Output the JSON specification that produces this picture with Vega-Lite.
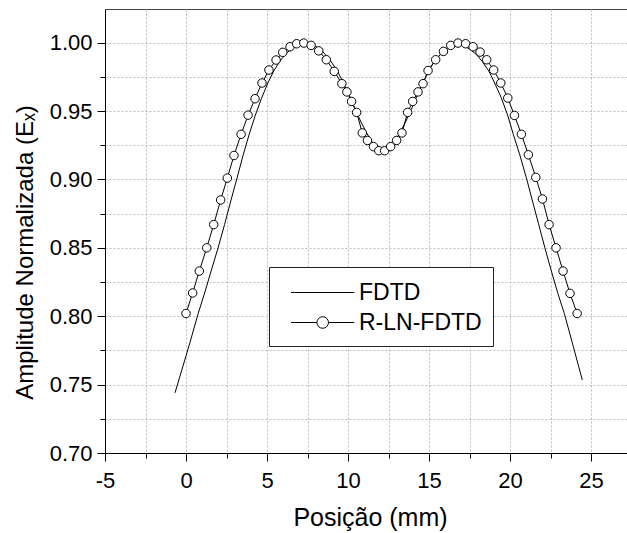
{
  "$schema": "https://vega.github.io/schema/vega-lite/v6.json",
  "width": 523,
  "height": 444,
  "autosize": {"type": "none"},
  "padding": {"left": 105, "top": 9, "right": 0, "bottom": 80},
  "background": "white",
  "config": {"font": "Liberation Sans", "view": {"stroke": "#444", "strokeWidth": 1}},
  "data": {"values": [
    {"series": "FDTD", "x": -0.68, "y": 0.744},
    {"series": "FDTD", "x": -0.2, "y": 0.763},
    {"series": "FDTD", "x": 0.25, "y": 0.781},
    {"series": "FDTD", "x": 0.75, "y": 0.802},
    {"series": "FDTD", "x": 1.15, "y": 0.817},
    {"series": "FDTD", "x": 1.55, "y": 0.833},
    {"series": "FDTD", "x": 1.98, "y": 0.850},
    {"series": "FDTD", "x": 2.38, "y": 0.867},
    {"series": "FDTD", "x": 2.78, "y": 0.885},
    {"series": "FDTD", "x": 3.15, "y": 0.901},
    {"series": "FDTD", "x": 3.52, "y": 0.9175},
    {"series": "FDTD", "x": 3.9, "y": 0.933},
    {"series": "FDTD", "x": 4.28, "y": 0.947},
    {"series": "FDTD", "x": 4.65, "y": 0.959},
    {"series": "FDTD", "x": 5.05, "y": 0.9705},
    {"series": "FDTD", "x": 5.45, "y": 0.980},
    {"series": "FDTD", "x": 5.85, "y": 0.9873},
    {"series": "FDTD", "x": 6.25, "y": 0.9929},
    {"series": "FDTD", "x": 6.7, "y": 0.997},
    {"series": "FDTD", "x": 7.1, "y": 0.9985},
    {"series": "FDTD", "x": 7.5, "y": 0.999},
    {"series": "FDTD", "x": 7.9, "y": 0.998},
    {"series": "FDTD", "x": 8.35, "y": 0.9945},
    {"series": "FDTD", "x": 8.85, "y": 0.988},
    {"series": "FDTD", "x": 9.3, "y": 0.980},
    {"series": "FDTD", "x": 9.75, "y": 0.970},
    {"series": "FDTD", "x": 10.1, "y": 0.961},
    {"series": "FDTD", "x": 10.45, "y": 0.951},
    {"series": "FDTD", "x": 10.8, "y": 0.942},
    {"series": "FDTD", "x": 11.15, "y": 0.934},
    {"series": "FDTD", "x": 11.5, "y": 0.927},
    {"series": "FDTD", "x": 11.85, "y": 0.9235},
    {"series": "FDTD", "x": 12.15, "y": 0.9225},
    {"series": "FDTD", "x": 12.5, "y": 0.9235},
    {"series": "FDTD", "x": 12.85, "y": 0.927},
    {"series": "FDTD", "x": 13.2, "y": 0.934},
    {"series": "FDTD", "x": 13.55, "y": 0.942},
    {"series": "FDTD", "x": 13.9, "y": 0.951},
    {"series": "FDTD", "x": 14.25, "y": 0.961},
    {"series": "FDTD", "x": 14.6, "y": 0.970},
    {"series": "FDTD", "x": 15.0, "y": 0.980},
    {"series": "FDTD", "x": 15.4, "y": 0.9875},
    {"series": "FDTD", "x": 15.85, "y": 0.9935},
    {"series": "FDTD", "x": 16.3, "y": 0.9975},
    {"series": "FDTD", "x": 16.75, "y": 0.999},
    {"series": "FDTD", "x": 17.2, "y": 0.9975},
    {"series": "FDTD", "x": 17.6, "y": 0.9945},
    {"series": "FDTD", "x": 17.95, "y": 0.991},
    {"series": "FDTD", "x": 18.3, "y": 0.986},
    {"series": "FDTD", "x": 18.7, "y": 0.979},
    {"series": "FDTD", "x": 19.05, "y": 0.9705},
    {"series": "FDTD", "x": 19.45, "y": 0.960},
    {"series": "FDTD", "x": 19.85, "y": 0.947},
    {"series": "FDTD", "x": 20.2, "y": 0.933},
    {"series": "FDTD", "x": 20.6, "y": 0.918},
    {"series": "FDTD", "x": 21.0, "y": 0.9015},
    {"series": "FDTD", "x": 21.35, "y": 0.8857},
    {"series": "FDTD", "x": 21.75, "y": 0.868},
    {"series": "FDTD", "x": 22.15, "y": 0.850},
    {"series": "FDTD", "x": 22.55, "y": 0.833},
    {"series": "FDTD", "x": 22.95, "y": 0.8167},
    {"series": "FDTD", "x": 23.35, "y": 0.802},
    {"series": "FDTD", "x": 23.9, "y": 0.778},
    {"series": "FDTD", "x": 24.46, "y": 0.7534},
    {"series": "R-LN-FDTD", "x": 0.0, "y": 0.802},
    {"series": "R-LN-FDTD", "x": 0.41, "y": 0.817},
    {"series": "R-LN-FDTD", "x": 0.82, "y": 0.833},
    {"series": "R-LN-FDTD", "x": 1.28, "y": 0.850},
    {"series": "R-LN-FDTD", "x": 1.71, "y": 0.867},
    {"series": "R-LN-FDTD", "x": 2.14, "y": 0.885},
    {"series": "R-LN-FDTD", "x": 2.55, "y": 0.901},
    {"series": "R-LN-FDTD", "x": 2.96, "y": 0.9175},
    {"series": "R-LN-FDTD", "x": 3.4, "y": 0.933},
    {"series": "R-LN-FDTD", "x": 3.83, "y": 0.947},
    {"series": "R-LN-FDTD", "x": 4.26, "y": 0.959},
    {"series": "R-LN-FDTD", "x": 4.69, "y": 0.9705},
    {"series": "R-LN-FDTD", "x": 5.12, "y": 0.980},
    {"series": "R-LN-FDTD", "x": 5.56, "y": 0.9873},
    {"series": "R-LN-FDTD", "x": 5.97, "y": 0.9929},
    {"series": "R-LN-FDTD", "x": 6.42, "y": 0.997},
    {"series": "R-LN-FDTD", "x": 6.83, "y": 0.9992},
    {"series": "R-LN-FDTD", "x": 7.27, "y": 0.9997},
    {"series": "R-LN-FDTD", "x": 7.72, "y": 0.998},
    {"series": "R-LN-FDTD", "x": 8.19, "y": 0.994},
    {"series": "R-LN-FDTD", "x": 8.66, "y": 0.9875},
    {"series": "R-LN-FDTD", "x": 9.15, "y": 0.979},
    {"series": "R-LN-FDTD", "x": 9.62, "y": 0.970},
    {"series": "R-LN-FDTD", "x": 9.93, "y": 0.964},
    {"series": "R-LN-FDTD", "x": 10.22, "y": 0.957},
    {"series": "R-LN-FDTD", "x": 10.53, "y": 0.949},
    {"series": "R-LN-FDTD", "x": 10.88, "y": 0.934},
    {"series": "R-LN-FDTD", "x": 11.2, "y": 0.9285},
    {"series": "R-LN-FDTD", "x": 11.57, "y": 0.924},
    {"series": "R-LN-FDTD", "x": 11.9, "y": 0.921},
    {"series": "R-LN-FDTD", "x": 12.26, "y": 0.921},
    {"series": "R-LN-FDTD", "x": 12.63, "y": 0.924},
    {"series": "R-LN-FDTD", "x": 13.0, "y": 0.9285},
    {"series": "R-LN-FDTD", "x": 13.33, "y": 0.934},
    {"series": "R-LN-FDTD", "x": 13.68, "y": 0.949},
    {"series": "R-LN-FDTD", "x": 13.99, "y": 0.957},
    {"series": "R-LN-FDTD", "x": 14.32, "y": 0.964},
    {"series": "R-LN-FDTD", "x": 14.63, "y": 0.970},
    {"series": "R-LN-FDTD", "x": 14.94, "y": 0.9796},
    {"series": "R-LN-FDTD", "x": 15.41, "y": 0.9875},
    {"series": "R-LN-FDTD", "x": 15.89, "y": 0.9936},
    {"series": "R-LN-FDTD", "x": 16.34, "y": 0.998},
    {"series": "R-LN-FDTD", "x": 16.79, "y": 0.9997},
    {"series": "R-LN-FDTD", "x": 17.26, "y": 0.9992},
    {"series": "R-LN-FDTD", "x": 17.72, "y": 0.997},
    {"series": "R-LN-FDTD", "x": 18.15, "y": 0.9931},
    {"series": "R-LN-FDTD", "x": 18.56, "y": 0.9875},
    {"series": "R-LN-FDTD", "x": 18.99, "y": 0.980},
    {"series": "R-LN-FDTD", "x": 19.43, "y": 0.9705},
    {"series": "R-LN-FDTD", "x": 19.86, "y": 0.9595},
    {"series": "R-LN-FDTD", "x": 20.27, "y": 0.9468},
    {"series": "R-LN-FDTD", "x": 20.7, "y": 0.933},
    {"series": "R-LN-FDTD", "x": 21.13, "y": 0.918},
    {"series": "R-LN-FDTD", "x": 21.59, "y": 0.9015},
    {"series": "R-LN-FDTD", "x": 22.0, "y": 0.8857},
    {"series": "R-LN-FDTD", "x": 22.41, "y": 0.867},
    {"series": "R-LN-FDTD", "x": 22.84, "y": 0.850},
    {"series": "R-LN-FDTD", "x": 23.27, "y": 0.833},
    {"series": "R-LN-FDTD", "x": 23.7, "y": 0.8167},
    {"series": "R-LN-FDTD", "x": 24.14, "y": 0.802}
  ]},
  "encoding": {
    "x": {
      "field": "x", "type": "quantitative",
      "scale": {"domain": [-5, 27.28], "nice": false, "zero": false},
      "axis": {
        "title": "Posição (mm)",
        "values": [-5, -2.5, 0, 2.5, 5, 7.5, 10, 12.5, 15, 17.5, 20, 22.5, 25],
        "labelExpr": "datum.value % 5 === 0 ? '' + datum.value : ''",
        "tickSize": {"condition": {"test": "datum.value % 5 !== 0", "value": 5}, "value": 8},
        "labelFontSize": 22, "labelColor": "black", "labelPadding": 9, "labelFlush": false,
        "domainColor": "black", "tickColor": "black",
        "gridColor": "#bbbbbb", "gridDash": [2, 2],
        "titleFontSize": 25, "titleFontWeight": "normal", "titleColor": "black",
        "titleX": 265, "titleY": 72, "titleAlign": "center", "titleBaseline": "alphabetic"
      }
    },
    "y": {
      "field": "y", "type": "quantitative",
      "scale": {"domain": [0.7, 1.0246], "nice": false, "zero": false},
      "axis": {
        "title": "Amplitude Normalizada (Eₓ)",
        "values": [0.7, 0.725, 0.75, 0.775, 0.8, 0.825, 0.85, 0.875, 0.9, 0.925, 0.95, 0.975, 1.0],
        "format": ".2f",
        "labelExpr": "round(datum.value * 1000) % 50 === 0 ? datum.label : ''",
        "tickSize": {"condition": {"test": "round(datum.value * 1000) % 50 !== 0", "value": 5}, "value": 8},
        "labelFontSize": 22, "labelColor": "black", "labelPadding": 5,
        "domainColor": "black", "tickColor": "black",
        "gridColor": "#bbbbbb", "gridDash": [2, 2],
        "titleFontSize": 24, "titleFontWeight": "normal", "titleColor": "black",
        "titleX": -73, "titleY": 243, "titleAlign": "center", "titleBaseline": "alphabetic", "titleAngle": 270
      }
    }
  },
  "layer": [
    {
      "transform": [{"filter": "datum.series === 'FDTD'"}],
      "mark": {"type": "line", "strokeWidth": 1},
      "encoding": {
        "color": {
          "field": "series", "type": "nominal",
          "scale": {"domain": ["FDTD", "R-LN-FDTD"], "range": ["black", "black"]},
          "legend": {
            "title": null, "orient": "none", "legendX": 164, "legendY": 258,
            "direction": "vertical", "padding": 11,
            "strokeColor": "#222", "fillColor": "white",
            "labelFontSize": 23, "labelColor": "black", "labelOffset": 50, "labelLimit": 300,
            "symbolSize": 784, "symbolStrokeWidth": 1, "rowPadding": 3,
            "encode": {
              "symbols": {
                "update": {
                  "shape": {"signal": "datum.value === 'FDTD' ? 'M-0.25,0H4.27' : 'M-0.25,0H1.6M2.428,0H4.27M2.428,0A0.414,0.414,0,1,1,1.6,0A0.414,0.414,0,1,1,2.428,0'"},
                  "fill": {"value": "white"},
                  "stroke": {"value": "black"},
                  "strokeWidth": {"value": 1},
                  "opacity": {"value": 1}
                }
              }
            }
          }
        }
      }
    },
    {
      "transform": [{"filter": "datum.series === 'R-LN-FDTD'"}],
      "mark": {"type": "line", "strokeWidth": 1},
      "encoding": {
        "color": {"field": "series", "type": "nominal"}
      }
    },
    {
      "transform": [{"filter": "datum.series === 'R-LN-FDTD'"}],
      "mark": {"type": "point", "filled": true, "fill": "white", "stroke": "black", "strokeWidth": 1, "size": 72, "opacity": 1}
    }
  ]
}
